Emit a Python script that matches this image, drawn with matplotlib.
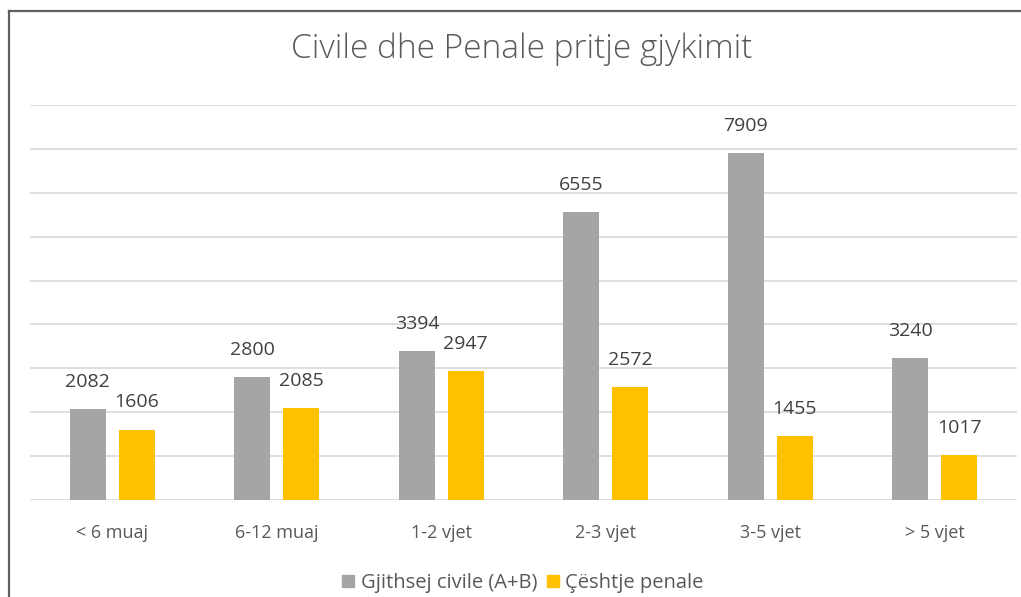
import matplotlib
matplotlib.use("Agg")
import matplotlib.pyplot as plt
import numpy as np
from matplotlib.patches import Rectangle
from matplotlib.lines import Line2D

categories = ["< 6 muaj", "6-12 muaj", "1-2 vjet", "2-3 vjet", "3-5 vjet", "> 5 vjet"]
civile = [2082, 2800, 3394, 6555, 7909, 3240]
penale = [1606, 2085, 2947, 2572, 1455, 1017]
series_names = ["Gjithsej civile (A+B)", "Çështje penale"]
title = "Civile dhe Penale pritje gjykimit"

W, H = 1021, 597
fig = plt.figure(figsize=(W / 100, H / 100), dpi=100)
fig.patch.set_facecolor("white")

# border lines (top and left)
fig.add_artist(Line2D([9 / W, 9 / W], [0, 1 - 11 / H], color="#606060", lw=1.6, transform=fig.transFigure))
fig.add_artist(Line2D([9 / W, 1], [1 - 11 / H, 1 - 11 / H], color="#606060", lw=1.6, transform=fig.transFigure))

left, right = 30 / W, 1017 / W
bottom, top = (H - 500) / H, (H - 105) / H
ax = fig.add_axes([left, bottom, right - left, top - bottom])

x = np.arange(len(categories))
bw = 0.22
off = 0.148
gray = "#A5A5A5"
yellow = "#FFC000"
b1 = ax.bar(x - off, civile, bw, color=gray, zorder=3)
b2 = ax.bar(x + off, penale, bw, color=yellow, zorder=3)

for bars, vals in ((b1, civile), (b2, penale)):
    for r, v in zip(bars, vals):
        ax.annotate(str(v), (r.get_x() + r.get_width() / 2, v), xytext=(0, 13),
                    textcoords="offset points", ha="center", va="bottom",
                    fontsize=14, color="#404040", family="Open Sans")

ax.set_xlim(-0.5, 5.5)
ax.set_ylim(0, 9000)
ax.set_yticks(np.arange(0, 9001, 1000))
ax.yaxis.grid(True, color="#D9D9D9", lw=1.2, zorder=0)
ax.tick_params(axis="y", left=False, labelleft=False)
ax.set_xticks(x)
ax.set_xticklabels(categories, fontsize=13, color="#595959", family="Open Sans")
ax.tick_params(axis="x", length=0, pad=17)
for s in ax.spines.values():
    s.set_visible(False)
ax.set_axisbelow(True)

fig.text(522 / W, 1 - 49 / H, title, ha="center", va="center", fontsize=24,
         color="#595959", family="Open Sans", fontweight="light")

handles = [Rectangle((0, 0), 1, 1, color=gray), Rectangle((0, 0), 1, 1, color=yellow)]
leg = fig.legend(handles, series_names, loc="center", bbox_to_anchor=(523 / W, 1 - 583 / H),
                 ncol=2, frameon=False, handlelength=0.6, handleheight=0.6,
                 handletextpad=0.3, columnspacing=0.5, prop={"family": "Open Sans", "size": 14.5})
for t in leg.get_texts():
    t.set_color("#595959")

fig.savefig("out.png", dpi=100, facecolor="white")
